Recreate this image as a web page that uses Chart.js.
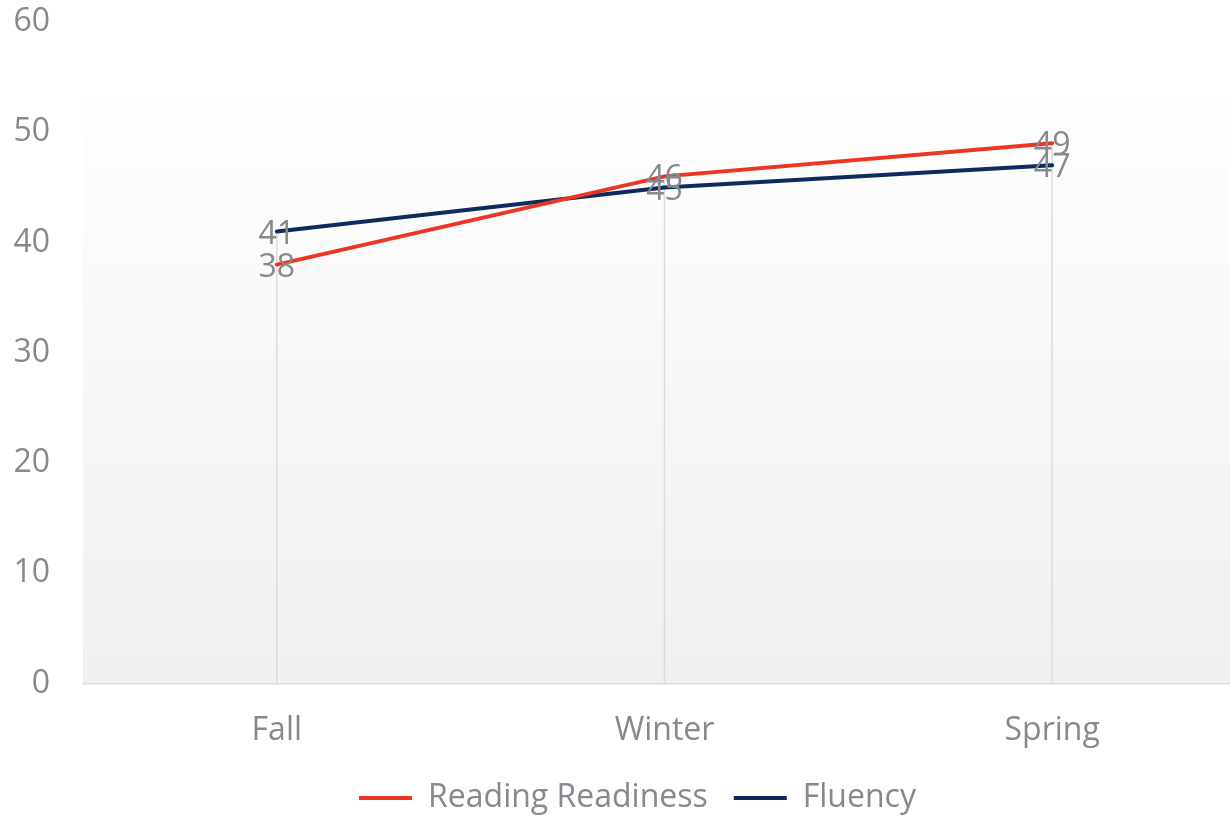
<!DOCTYPE html>
<html>
<head>
<meta charset="utf-8">
<title>Reading Readiness / Fluency</title>
<script src="https://cdn.jsdelivr.net/npm/chart.js"></script>
<style>
  html, body { margin: 0; padding: 0; background: #ffffff; overflow: hidden; }
  #wrap { width: 1250px; height: 824px; }
</style>
</head>
<body>
<div id="wrap"><canvas id="myChart" width="1250" height="824"></canvas></div>

<script type="text/javascript">
  var seasons = ["Fall", "Winter", "Spring"];
  var readingReadiness = [38, 46, 49];
  var fluency = [41, 45, 47];
  var yTicks = [0, 10, 20, 30, 40, 50, 60];

  var grayText = '#86898d';
  var red = '#ee3524';
  var navy = '#0f2a5c';

  // light gray gradient behind the plot, starts a bit under the top
  var backgroundPlugin = {
    id: 'backgroundPlugin',
    beforeDraw: function (chart) {
      var a = chart.chartArea;
      var ctx = chart.ctx;
      var top = a.top + 78;
      var g = ctx.createLinearGradient(0, top, 0, a.bottom);
      g.addColorStop(0, '#fefefe');
      g.addColorStop(1, '#f0f0f0');
      ctx.save();
      ctx.fillStyle = g;
      ctx.fillRect(a.left, top, a.right - a.left, a.bottom - top);
      ctx.restore();
    },
    afterLayout: function (chart) {
      // nudge the legend row a little to the right
      if (chart.legend) {
        chart.legend.left += 8;
        chart.legend.right += 8;
      }
    }
  };

  // drop lines from the highest point of each season to the axis
  var dropLinePlugin = {
    id: 'dropLinePlugin',
    beforeDatasetsDraw: function (chart) {
      var ctx = chart.ctx;
      var xScale = chart.scales['x'];
      var yScale = chart.scales['y'];
      ctx.save();
      ctx.strokeStyle = '#dcdcdc';
      ctx.lineWidth = 1.5;
      for (var i = 0; i < seasons.length; i++) {
        var top = Math.max(readingReadiness[i], fluency[i]);
        var x = xScale.getPixelForValue(i);
        ctx.beginPath();
        ctx.moveTo(x, yScale.getPixelForValue(top));
        ctx.lineTo(x, yScale.bottom);
        ctx.stroke();
      }
      ctx.restore();
    }
  };

  // value labels sitting on the points
  var valueLabelPlugin = {
    id: 'valueLabelPlugin',
    afterDatasetsDraw: function (chart) {
      var ctx = chart.ctx;
      ctx.save();
      ctx.font = '32px "Open Sans"';
      ctx.fillStyle = grayText;
      ctx.textAlign = 'center';
      ctx.textBaseline = 'middle';
      chart.data.datasets.forEach(function (ds, di) {
        var meta = chart.getDatasetMeta(di);
        meta.data.forEach(function (pt, i) {
          ctx.fillText(ds.data[i], pt.x, pt.y + 3);
        });
      });
      ctx.restore();
    }
  };

  var ctx = document.getElementById('myChart');
  var myChart = new Chart(ctx, {
    type: 'line',
    data: {
      labels: seasons,
      datasets: [
        {
          label: 'Reading Readiness',
          data: readingReadiness,
          borderColor: red,
          backgroundColor: red,
          borderWidth: 4,
          borderCapStyle: 'round',
          pointRadius: 0,
          pointStyle: 'line'
        },
        {
          label: 'Fluency',
          data: fluency,
          borderColor: navy,
          backgroundColor: navy,
          borderWidth: 4,
          borderCapStyle: 'round',
          pointRadius: 0,
          pointStyle: 'line'
        }
      ]
    },
    options: {
      responsive: false,
      animation: false,
      layout: { padding: { left: 13, right: 4, top: 22, bottom: 0 } },
      scales: {
        x: {
          offset: true,
          afterFit: function (scale) {
            // drop most of the tick padding chart.js adds under the labels
            scale.height -= 22;
          },
          grid: { display: false, drawTicks: false },
          border: { display: true, color: '#dddddd', width: 1.5 },
          ticks: { color: grayText, font: { family: 'Open Sans', size: 32 }, padding: 28 }
        },
        y: {
          min: 0,
          max: 60,
          afterBuildTicks: function (scale) {
            scale.ticks = yTicks.map(function (v) { return { value: v }; });
          },
          afterFit: function (scale) {
            scale.width = 70;
            scale.paddingTop = 0;
            scale.paddingBottom = 0;
          },
          grid: { display: false, drawTicks: false },
          border: { display: false },
          ticks: { color: grayText, font: { family: 'Open Sans', size: 32 }, padding: 33 }
        }
      },
      plugins: {
        legend: {
          position: 'bottom',
          labels: {
            usePointStyle: true,
            pointStyleWidth: 53,
            color: grayText,
            font: { family: 'Open Sans', size: 32 },
            padding: 26
          }
        },
        tooltip: { enabled: false }
      }
    },
    plugins: [backgroundPlugin, dropLinePlugin, valueLabelPlugin]
  });
</script>
</body>
</html>
